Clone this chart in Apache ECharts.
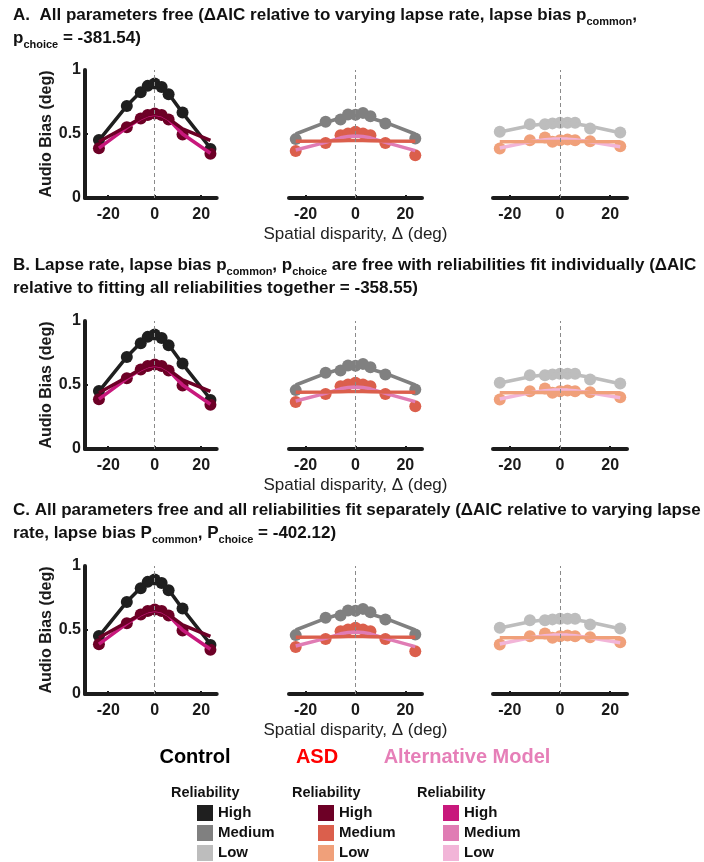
<!DOCTYPE html>
<html><head><meta charset="utf-8">
<script src="https://cdn.jsdelivr.net/npm/echarts@6/dist/echarts.min.js"></script>
<style>html,body{margin:0;padding:0;background:#fff}#c{width:704px;height:862px}</style>
</head><body><div id="c"></div>
<script>
// ---------- data ----------
const disparity = [-24, -12, -6, -3, 0, 3, 6, 12, 24];
const xTicks = [-20, 0, 20];
const yTicks = [0, 0.5, 1];
// High reliability
const controlHighPts = [0.453, 0.718, 0.826, 0.876, 0.894, 0.868, 0.811, 0.668, 0.383];
const controlHighFit = [0.450, 0.720, 0.830, 0.875, 0.890, 0.870, 0.815, 0.665, 0.390];
const asdHighPts     = [0.389, 0.552, 0.622, 0.648, 0.661, 0.648, 0.614, 0.497, 0.345];
const asdHighFit     = [0.440, 0.560, 0.625, 0.650, 0.660, 0.650, 0.620, 0.540, 0.450];
const altHighFit     = [0.390, 0.550, 0.620, 0.645, 0.655, 0.645, 0.615, 0.500, 0.350];
// Medium reliability
const controlMedPts  = [0.460, 0.595, 0.614, 0.652, 0.650, 0.665, 0.638, 0.582, 0.465];
const controlMedFit  = [0.500, 0.590, 0.625, 0.640, 0.645, 0.640, 0.625, 0.590, 0.500];
const asdMedPts      = [0.368, 0.430, 0.490, 0.504, 0.517, 0.504, 0.490, 0.430, 0.334];
const asdMedFit      = [0.444, 0.446, 0.448, 0.449, 0.450, 0.449, 0.448, 0.446, 0.444];
const altMedFit      = [0.375, 0.435, 0.470, 0.480, 0.485, 0.480, 0.470, 0.435, 0.370];
// Low reliability
const controlLowPts  = [0.517, 0.577, 0.577, 0.583, 0.587, 0.587, 0.587, 0.543, 0.512];
const controlLowFit  = [0.515, 0.565, 0.580, 0.585, 0.587, 0.585, 0.580, 0.560, 0.510];
const asdLowPts      = [0.387, 0.452, 0.473, 0.439, 0.452, 0.457, 0.452, 0.444, 0.405];
const asdLowFit      = [0.440, 0.441, 0.442, 0.442, 0.442, 0.442, 0.442, 0.441, 0.440];
const altLowFit      = [0.390, 0.440, 0.455, 0.460, 0.460, 0.460, 0.455, 0.440, 0.400];

const panelTitles = [
  '{b|A.  All parameters free (ΔAIC relative to varying lapse rate, lapse bias p}{s|common}{b|,}\n{b|p}{s|choice}{b| = -381.54)}',
  '{b|B. Lapse rate, lapse bias p}{s|common}{b|, p}{s|choice}{b| are free with reliabilities fit individually (ΔAIC}\n{b|relative to fitting all reliabilities together = -358.55)}',
  '{b|C. All parameters free and all reliabilities fit separately (ΔAIC relative to varying lapse}\n{b|rate, lapse bias P}{s|common}{b|, P}{s|choice}{b| = -402.12)}'
];
const groupNames = ['Control', 'ASD', 'Alternative Model'];
const levelNames = ['High', 'Medium', 'Low'];

// ---------- styles ----------
const F = 'Liberation Sans, Arial, Helvetica, sans-serif';
const FN = 'Liberation Sans Narrow, Liberation Sans, Arial, sans-serif';
const AX = '#1c1c1c';
const colControl = ['#1f1f1f', '#808080', '#bdbdbd'];
const colASD = ['#6d0026', '#db5f4c', '#f0a07a'];
const colAlt = ['#c8187c', '#e07cb4', '#f2b5d8'];
const groupColors = ['#000000', '#ff0000', '#e67fb8'];

const sets = [
  {cp: controlHighPts, cf: controlHighFit, ap: asdHighPts, af: asdHighFit, lf: altHighFit},
  {cp: controlMedPts, cf: controlMedFit, ap: asdMedPts, af: asdMedFit, lf: altMedFit},
  {cp: controlLowPts, cf: controlLowFit, ap: asdLowPts, af: asdLowFit, lf: altLowFit}
];

const panelTops = [70, 321, 566];
const titleTops = [-1, 249, 494];
const cols = [
  {left: 85, width: 131.7, min: -30, max: 26.7},
  {left: 289, width: 133, min: -26.7, max: 26.7},
  {left: 493, width: 134, min: -26.7, max: 26.7}
];
const PH = 128;

const pairs = a => disparity.map((x, i) => [x, a[i]]);

const grid = [], xAxis = [], yAxis = [], series = [], title = [];
panelTops.forEach((top, p) => {
  title.push({
    text: panelTitles[p], left: 8, top: titleTops[p],
    textStyle: {
      rich: {
        b: {fontFamily: FN, fontWeight: 'bold', fontSize: 17, lineHeight: 23, color: '#111'},
        s: {fontFamily: FN, fontWeight: 'bold', fontSize: 11, lineHeight: 14, verticalAlign: 'bottom', color: '#111'}
      }
    }
  });
  cols.forEach((c, k) => {
    const gi = p * 3 + k;
    grid.push({left: c.left, top: top, width: c.width, height: PH, containLabel: false});
    xAxis.push({
      gridIndex: gi, type: 'value', min: c.min, max: c.max,
      name: k === 1 ? 'Spatial disparity, Δ (deg)' : '',
      nameLocation: 'middle', nameGap: 28,
      nameTextStyle: {fontFamily: F, fontSize: 17, color: '#222'},
      axisLine: {show: true, onZero: false, lineStyle: {color: AX, width: 4}},
      axisTick: {show: true, inside: true, length: 3, customValues: xTicks, lineStyle: {color: AX, width: 2}},
      axisLabel: {show: true, customValues: xTicks, fontFamily: F, fontWeight: 'bold', fontSize: 16, color: '#1a1a1a', margin: 9},
      splitLine: {show: false}
    });
    yAxis.push({
      gridIndex: gi, type: 'value', min: 0, max: 1, interval: 0.5,
      show: k === 0,
      name: k === 0 ? 'Audio Bias (deg)' : '',
      nameLocation: 'middle', nameGap: 27,
      nameTextStyle: {fontFamily: F, fontWeight: 'bold', fontSize: 16, color: '#1a1a1a'},
      axisLine: {show: true, onZero: false, lineStyle: {color: AX, width: 4}},
      axisTick: {show: true, inside: true, length: 3, customValues: [0, 0.5], lineStyle: {color: AX, width: 2}},
      axisLabel: {fontFamily: F, fontWeight: 'bold', fontSize: 16, color: '#1a1a1a', margin: 4,
        customValues: yTicks, formatter: v => String(v)},
      splitLine: {show: false}
    });
    const s = sets[k];
    const lineS = (data, color, w) => ({
      type: 'line', xAxisIndex: gi, yAxisIndex: gi, data: pairs(data), showSymbol: false, symbol: 'none',
      lineStyle: {color: color, width: w}, silent: true, animation: false
    });
    const ptS = (data, color) => ({
      type: 'scatter', xAxisIndex: gi, yAxisIndex: gi, data: pairs(data), symbol: 'circle', symbolSize: 12,
      itemStyle: {color: color, opacity: 1}, silent: true, animation: false
    });
    const l0 = lineS(s.cf, colControl[k], 3.5);
    l0.markLine = {silent: true, symbol: 'none', label: {show: false},
      lineStyle: {type: [4, 3], color: '#8a8a8a', width: 1}, data: [{xAxis: 0}], animation: false};
    series.push(l0, ptS(s.cp, colControl[k]), lineS(s.lf, colAlt[k], 3.5), lineS(s.af, colASD[k], 3.5), ptS(s.ap, colASD[k]));
  });
});

// ---------- legend (graphic) ----------
const graphic = [];
const gCenters = [195, 317, 467];
groupNames.forEach((n, i) => {
  graphic.push({type: 'text', position: [gCenters[i], 757], silent: true,
    style: {text: n, fill: groupColors[i], font: 'bold 20px ' + F, textAlign: 'center', textVerticalAlign: 'middle'}});
});
const relLeft = [171, 292, 417];
const boxLeft = [197, 318, 443];
const levelColors = [colControl, colASD, colAlt];
relLeft.forEach((rx, g) => {
  graphic.push({type: 'text', position: [rx, 793], silent: true,
    style: {text: 'Reliability', fill: '#111', font: 'bold 14.5px ' + F, textAlign: 'left', textVerticalAlign: 'middle'}});
  levelNames.forEach((ln, j) => {
    graphic.push({type: 'rect', shape: {x: boxLeft[g], y: 805 + 20 * j, width: 16, height: 16}, silent: true,
      style: {fill: levelColors[g][j]}});
    graphic.push({type: 'text', position: [boxLeft[g] + 21, 813 + 20 * j], silent: true,
      style: {text: ln, fill: '#111', font: 'bold 15px ' + F, textAlign: 'left', textVerticalAlign: 'middle'}});
  });
});

const chart = echarts.init(document.getElementById('c'), null, {renderer: 'canvas'});
chart.setOption({animation: false, backgroundColor: '#fff', title, grid, xAxis, yAxis, series, graphic});
</script></body></html>
